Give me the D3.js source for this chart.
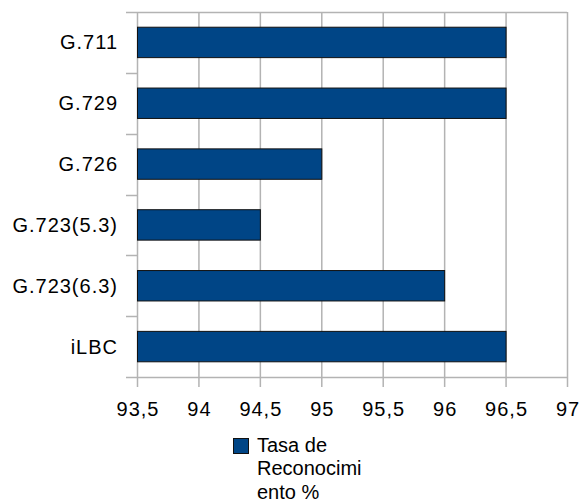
<!DOCTYPE html>
<html>
<head>
<meta charset="utf-8">
<script src="https://cdn.jsdelivr.net/npm/d3@7"></script>
<style>
  body { margin: 0; background: #fff; }
  text { font-family: "Liberation Sans", Arial, sans-serif; fill: #000; }
</style>
</head>
<body>
<script>
// data
const categories = ["G.711", "G.729", "G.726", "G.723(5.3)", "G.723(6.3)", "iLBC"];
const values = [96.5, 96.5, 95, 94.5, 96, 96.5];
const xTicks = [93.5, 94, 94.5, 95, 95.5, 96, 96.5, 97];
const legendLines = ["Tasa de", "Reconocimi", "ento %"];

const width = 581, height = 504;
const plot = { left: 137, right: 567, top: 12, bottom: 377 };
const gridColor = "#b3b3b3";
const barColor = "#004586";

const svg = d3.select("body").append("svg")
    .attr("width", width)
    .attr("height", height);

const x = d3.scaleLinear().domain([93.5, 97]).range([plot.left, plot.right]);
const y = d3.scaleBand().domain(categories).range([plot.top, plot.bottom]).paddingInner(0.5).paddingOuter(0.25);
const yBand = d3.scaleBand().domain(categories).range([plot.top, plot.bottom]);

// vertical gridlines + x ticks
svg.append("g").selectAll("line")
    .data(xTicks)
    .enter()
    .append("line")
    .attr("x1", (d) => x(d) + 0.5)
    .attr("x2", (d) => x(d) + 0.5)
    .attr("y1", plot.top)
    .attr("y2", plot.bottom + 10)
    .attr("stroke", gridColor)
    .attr("stroke-width", 1.5);

// category tick marks (band boundaries) and top border
const bounds = categories.map((c) => yBand(c)).concat([plot.bottom]);
svg.append("g").selectAll("line")
    .data(bounds)
    .enter()
    .append("line")
    .attr("x1", plot.left - 11)
    .attr("x2", (d, i) => (i === 0 || i === bounds.length - 1 ? plot.right : plot.left))
    .attr("y1", (d) => Math.round(d) + 0.5)
    .attr("y2", (d) => Math.round(d) + 0.5)
    .attr("stroke", gridColor)
    .attr("stroke-width", 1.5);

// bars
svg.append("g").selectAll("rect")
    .data(values)
    .enter()
    .append("rect")
    .attr("x", x(93.5) + 0.5)
    .attr("y", (d, i) => y(categories[i]))
    .attr("width", (d) => x(d) - x(93.5))
    .attr("height", y.bandwidth())
    .attr("fill", barColor)
    .attr("stroke", "#111")
    .attr("stroke-width", 1);

// category labels
svg.append("g").selectAll("text")
    .data(categories)
    .enter()
    .append("text")
    .attr("x", 118)
    .attr("y", (d) => yBand(d) + yBand.bandwidth() / 2 + 7)
    .attr("text-anchor", "end")
    .attr("font-size", 20)
    .attr("letter-spacing", 1)
    .text((d) => d);

// x tick labels
svg.append("g").selectAll("text")
    .data(xTicks)
    .enter()
    .append("text")
    .attr("x", (d) => x(d) + 1)
    .attr("y", 416)
    .attr("text-anchor", "middle")
    .attr("font-size", 20)
    .attr("letter-spacing", 1)
    .text((d) => String(d).replace(".", ","));

// legend
const legend = svg.append("g").attr("transform", "translate(233,438)");
legend.append("rect")
    .attr("x", 0.5)
    .attr("y", 0.5)
    .attr("width", 15)
    .attr("height", 15)
    .attr("fill", barColor)
    .attr("stroke", "#111");
legend.selectAll("text")
    .data(legendLines)
    .enter()
    .append("text")
    .attr("x", 24)
    .attr("y", (d, i) => 14 + i * 23.4)
    .attr("font-size", 20)
    .text((d) => d);
</script>
</body>
</html>
